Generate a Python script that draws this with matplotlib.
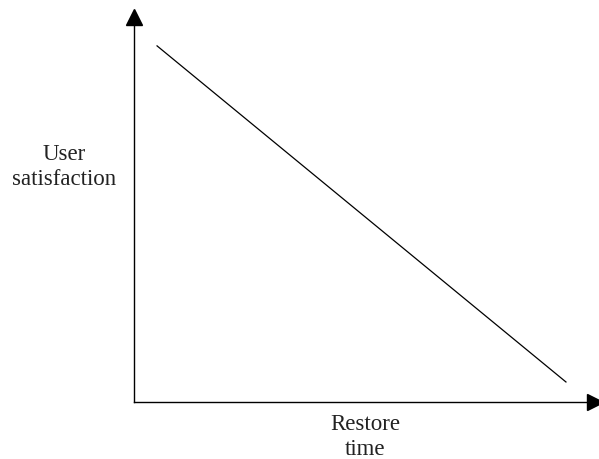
import matplotlib.pyplot as plt

# restore time vs user satisfaction (schematic, normalised)
restore_time = [0.05, 0.937]
satisfaction = [0.925, 0.052]

W, H = 599, 459
fig = plt.figure(figsize=(W / 100, H / 100), dpi=100)
ax = fig.add_axes([134 / W, (H - 402) / H, 461 / W, 385 / H])

ax.plot(restore_time, satisfaction, color='black', lw=0.9)
ax.set_xlim(0, 1)
ax.set_ylim(0, 1)

for s in ['top', 'right']:
    ax.spines[s].set_visible(False)
for s in ['left', 'bottom']:
    ax.spines[s].set_linewidth(1.0)
ax.set_xticks([])
ax.set_yticks([])

# arrow heads
ax.plot([0], [1], marker='^', ms=12, color='black', transform=ax.transAxes, clip_on=False)
ax.plot([1], [0], marker='>', ms=12, color='black', transform=ax.transAxes, clip_on=False)

font = dict(family='Liberation Serif', size=16.5, ha='center', va='center', linespacing=1.25)
fig.text(64 / W, 1 - 167 / H, 'User\nsatisfaction', color='#222222', **font)
fig.text(365 / W, 1 - 437 / H, 'Restore\ntime', color='#222222', **font)

fig.savefig('out.png', dpi=100)
